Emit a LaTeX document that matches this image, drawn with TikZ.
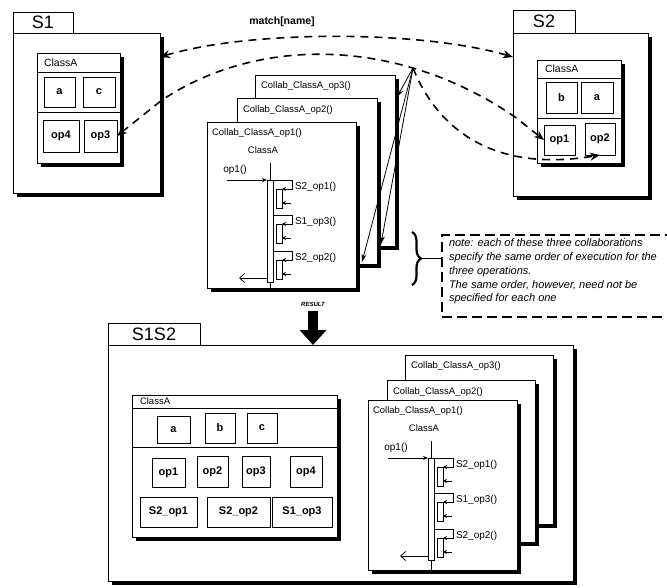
\documentclass[tikz,border=0pt]{standalone}
\usepackage{fontspec}
\setmainfont{Liberation Sans}
\usetikzlibrary{arrows.meta,shadows,decorations.pathreplacing}
\newcommand\fs[1]{\fontsize{#1}{#1}\selectfont}
\newcommand\rbox[7]{\node[#1,minimum width={(#5)-(#3)},minimum height={(#6)-(#4)}] (#2) at (#3,#4) {#7};}
\newcommand\collabstack[6]{%
  \rbox{frame}{f3}{#3}{#4}{#3+#5}{124}{}
  \node[anchor=west,font=\fs{9.5}] (t3) at (#3+6,#4+11) {Collab\_ClassA\_op3()};
  \rbox{frame}{f2}{#1}{#2}{#1+#5}{142}{}
  \node[anchor=west,font=\fs{9.5}] (t2) at (#1+6,#2+12) {Collab\_ClassA\_op2()};
  \rbox{frame}{f1}{0}{0}{149}{#6}{}
  \node[anchor=west,font=\fs{9.5}] (t1) at (5,11) {Collab\_ClassA\_op1()};
  \node[font=\fs{9.5}] (obj) at (56,28) {ClassA};
  \node[font=\fs{10}] (msg) at (28,48) {op1()};
  \coordinate (lltop) at (63,41);
  \coordinate (llbot) at (63,#6);
  \draw[line width=0.8pt] (lltop) -- (llbot);
  \draw[line width=0.8pt,fill=white] (60,58) rectangle (66,160);
  \coordinate (cin) at (20,58);
  \coordinate (act) at (60,58);
  \draw[line width=0.8pt,-{Stealth[length=5pt,width=4pt]}] (cin) -- (act);
  \foreach \yy/\lab in {58/S2\_op1(),93/S1\_op3(),129/S2\_op2()}{
    \draw[line width=0.8pt] (66,\yy) -- (85,\yy) -- (85,\yy+9) -- (78,\yy+9);
    \draw[line width=0.8pt,-{Stealth[length=4pt,width=4pt]}] (80,\yy+9) -- (75,\yy+9);
    \draw[line width=0.8pt,fill=white] (69,\yy+9) rectangle (75,\yy+28);
    \draw[line width=0.8pt,-{Stealth[length=4pt,width=4pt]}] (84,\yy+23) -- (75,\yy+23);
    \node[anchor=west,font=\fs{10}] at (88,\yy+7) {\lab};
  }
  \coordinate (rfrom) at (60,156);
  \coordinate (rto) at (32,156);
  \draw[line width=0.8pt,-{Straight Barb[length=5pt,width=9pt]}] (rfrom) -- (rto);
}
\begin{document}
\begin{tikzpicture}[x=1pt,y=-1pt,
  every node/.style={inner sep=0pt,outer sep=0pt},
  ln/.style={line width=0.8pt},
  shad/.style={general shadow={fill=black,shadow xshift=3.5pt,shadow yshift=-3.5pt}},
  pkgtab/.style={draw,line width=0.9pt,fill=white,anchor=north west,font=\fs{18}},
  pkg/.style={draw,line width=0.9pt,fill=white,anchor=north west,shad},
  frame/.style={draw,line width=0.8pt,fill=white,anchor=north west,shad},
  cls/.style={draw,line width=0.8pt,fill=white,anchor=north west,shad},
  attr/.style={draw,line width=0.9pt,fill=white,anchor=north west,font=\bfseries\fs{11}},
  dsh/.style={line width=1.6pt,dash pattern=on 8pt off 6pt},
  notebox/.style={draw,line width=1.4pt,dash pattern=on 10pt off 5pt,anchor=north west},
]
\useasboundingbox (0,0) rectangle (667,587);

% ---------- S1 ----------
\rbox{pkgtab}{S1tab}{13}{12}{73}{33}{S1}
\rbox{pkg}{S1}{13}{33}{160}{193}{}
\rbox{cls}{A1}{37}{53}{120}{163}{}
\node[anchor=west,font=\fs{10.5}] (A1t) at (44,62.5) {ClassA};
\draw[ln] (A1.west |- 0,72) -- (A1.east |- 0,72);
\draw[ln] (A1.west |- 0,112) -- (A1.east |- 0,112);
\rbox{attr}{A1a}{44}{77}{75}{107}{a}
\rbox{attr}{A1c}{83}{77}{115}{107}{c}
\rbox{attr}{A1op4}{43}{120}{79}{152}{op4}
\rbox{attr}{A1op3}{84}{120}{117}{152}{op3}

% ---------- S2 ----------
\rbox{pkgtab}{S2tab}{513}{10}{575}{33}{S2}
\rbox{pkg}{S2}{513}{33}{648}{196}{}
\rbox{cls}{A2}{537}{60}{621}{163}{}
\node[anchor=west,font=\fs{10.5}] (A2t) at (545,69) {ClassA};
\draw[ln] (A2.west |- 0,78) -- (A2.east |- 0,78);
\draw[ln] (A2.west |- 0,118) -- (A2.east |- 0,118);
\rbox{attr}{A2b}{546}{82}{577}{113}{b}
\rbox{attr}{A2a}{581}{82}{613}{113}{a}
\rbox{attr}{A2op1}{544}{125}{575}{155}{op1}
\rbox{attr}{A2op2}{585}{123}{615}{155}{op2}

% ---------- upper collaborations ----------
\begin{scope}[shift={(207,122)},name prefix=up-]
\collabstack{30}{-24}{48}{-47}{140}{166}
\end{scope}

% ---------- match arcs ----------
\node[font=\bfseries\fs{10.5}] (match) at (282,22) {match[name]};
\coordinate (s1p) at (162,100);
\coordinate (s2p) at (515,117);
\coordinate (apex) at (413,68);
\draw[dsh,<->,>={Stealth[length=10pt,width=8pt]}] (S1.east |- 0,57) .. controls (250,30) and (420,30) .. (S2.west |- 0,57);
\draw[dsh,<->,>={Stealth[length=10pt,width=8pt]}] (A1op3.east) -- (s1p) .. controls (260,35) and (400,38) .. (s2p) -- (A2op1.west);
\draw[dsh,->,>={Stealth[length=10pt,width=8pt]}] (apex) .. controls (440,135) and (500,172) .. (A2op2.south);
\coordinate (fa1) at (362,262);
\coordinate (fa2) at (381,244);
\coordinate (fa3) at (397,97);
\draw[line width=0.8pt,-{Stealth[length=8pt,width=5pt]}] (apex) -- (fa1);
\draw[line width=0.8pt,-{Stealth[length=8pt,width=5pt]}] (apex) -- (fa2);
\draw[line width=0.8pt,-{Stealth[length=8pt,width=5pt]}] (apex) -- (fa3);

% ---------- note ----------
\rbox{notebox}{note}{442}{235}{690}{317}{}
\node[anchor=north west,align=left,font=\itshape\fontsize{11}{13.7}\selectfont] (notetxt) at (449,239)
 {note: each of these three collaborations\\specify the same order of execution for the\\three operations.\\The same order, however, need not be\\specified for each one};
\coordinate (br1) at (412,232);
\coordinate (br2) at (412,285);
\draw[decorate,decoration={brace,amplitude=9pt},line width=2.2pt] (br1) -- (br2);
\coordinate (brt) at (421,258.5);
\draw[line width=1.4pt] (brt) -- (note.west |- brt);

% ---------- S1S2 ----------
\rbox{pkgtab}{S1S2tab}{108}{323}{200}{345}{S1S2}
\rbox{pkg}{S1S2}{108}{345}{573}{581}{}
\node[font=\bfseries\itshape\fs{6}] (reslab) at (313,304) {RESULT};
\coordinate (resA) at (313,311);
\draw[line width=10pt,-{Triangle[width=26pt,length=15pt]}] (resA) -- (S1S2.north -| resA);

\rbox{cls}{A3}{132}{395}{337}{537}{}
\node[anchor=west,font=\fs{9.5}] (A3t) at (140,401.5) {ClassA};
\draw[ln] (A3.west |- 0,408) -- (A3.east |- 0,408);
\draw[ln] (A3.west |- 0,447) -- (A3.east |- 0,447);
\rbox{attr}{A3a}{157}{416}{190}{443}{a}
\rbox{attr}{A3b}{205}{413}{235}{443}{b}
\rbox{attr}{A3c}{247}{413}{277}{443}{c}
\rbox{attr}{A3op1}{152}{458}{185}{487}{op1}
\rbox{attr}{A3op2}{197}{456}{228}{487}{op2}
\rbox{attr}{A3op3}{242}{456}{270}{487}{op3}
\rbox{attr}{A3op4}{290}{456}{322}{487}{op4}
\rbox{attr}{A3s1}{140}{497}{197}{527}{S2\_op1}
\rbox{attr}{A3s2}{207}{497}{270}{527}{S2\_op2}
\rbox{attr}{A3s3}{272}{497}{332}{527}{S1\_op3}

\begin{scope}[shift={(368,400)},name prefix=lo-]
\collabstack{19}{-20}{37}{-45}{148}{170}
\end{scope}
\end{tikzpicture}
\end{document}
